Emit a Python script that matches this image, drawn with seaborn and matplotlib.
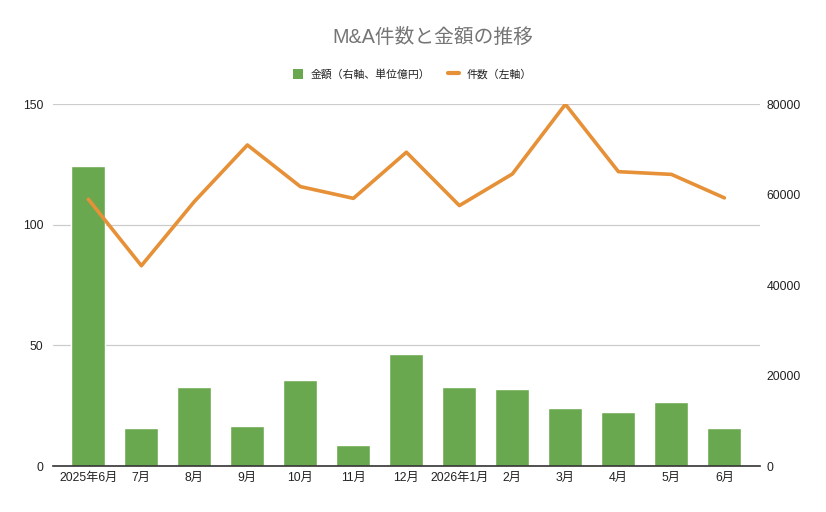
import numpy as np
import pandas as pd
import matplotlib
matplotlib.use("Agg")
import matplotlib.pyplot as plt
import seaborn as sns
from matplotlib.lines import Line2D
from matplotlib.patches import Patch

months = ["2025年6月", "7月", "8月", "9月", "10月", "11月", "12月",
          "2026年1月", "2月", "3月", "4月", "5月", "6月"]
amount = [124.3, 15.7, 32.6, 16.6, 35.6, 8.7, 46.4, 32.6, 31.9, 24.0, 22.4, 26.5, 15.7]
count = [59000, 44300, 58500, 71000, 61800, 59200, 69400, 57600, 64600, 80000, 65100, 64500, 59300]
left_ticks = [0, 50, 100, 150]
right_ticks = [0, 20000, 40000, 60000, 80000]

sns.set_theme(style="white")
plt.rcParams["font.family"] = ["Liberation Sans", "Noto Sans CJK JP", "DejaVu Sans"]

GREEN = "#6aa84f"
ORANGE = "#e69138"

df = pd.DataFrame({"month": months, "amount": amount, "count": count,
                   "pos": np.arange(len(months))})

fig = plt.figure(figsize=(8.26, 5.12), dpi=100)
ax = fig.add_axes([0.064, 0.0898, 0.856, 0.7065])
sns.barplot(data=df, x="month", y="amount", color=GREEN, saturation=1,
            width=0.64, ax=ax)
ax.set_ylim(0, 150)
ax.set_yticks(left_ticks)
ax.set_xlim(-0.67, 12.67)
ax.grid(axis="y", color="#cccccc", linewidth=0.9)
ax.set_axisbelow(True)
for s in ["top", "left", "right"]:
    ax.spines[s].set_visible(False)
ax.spines["bottom"].set_color("#333333")
ax.spines["bottom"].set_linewidth(1.2)
ax.set_xlabel("")
ax.set_ylabel("")
ax.tick_params(axis="both", length=0, labelsize=8.8, colors="#222222")
ax.tick_params(axis="x", pad=4)
ax.tick_params(axis="y", pad=7)

ax2 = ax.twinx()
sns.lineplot(data=df, x="pos", y="count", color=ORANGE, linewidth=2.6, ax=ax2)
ax2.set_ylim(0, 80000)
ax2.set_yticks(right_ticks)
ax2.set_xlim(-0.67, 12.67)
for s in ["top", "left", "right", "bottom"]:
    ax2.spines[s].set_visible(False)
ax2.grid(False)
ax2.set_ylabel("")
ax2.set_xlabel("")
ax2.tick_params(axis="y", length=0, labelsize=8.8, colors="#222222", pad=5)

fig.text(0.524, 0.926, "M&A件数と金額の推移", ha="center", va="center",
         fontsize=14.2, color="#757575")

handles = [Patch(facecolor=GREEN, edgecolor="none"),
           Line2D([0], [0], color=ORANGE, linewidth=3)]
fig.legend(handles, ["金額（右軸、単位億円）", "件数（左軸）"], loc="center",
           bbox_to_anchor=(0.499, 0.855), ncol=2, frameon=False,
           fontsize=7.8, handlelength=1.0, handleheight=1.0,
           columnspacing=1.6, handletextpad=0.7, labelcolor="#222222")

fig.savefig("out.png", dpi=100)
